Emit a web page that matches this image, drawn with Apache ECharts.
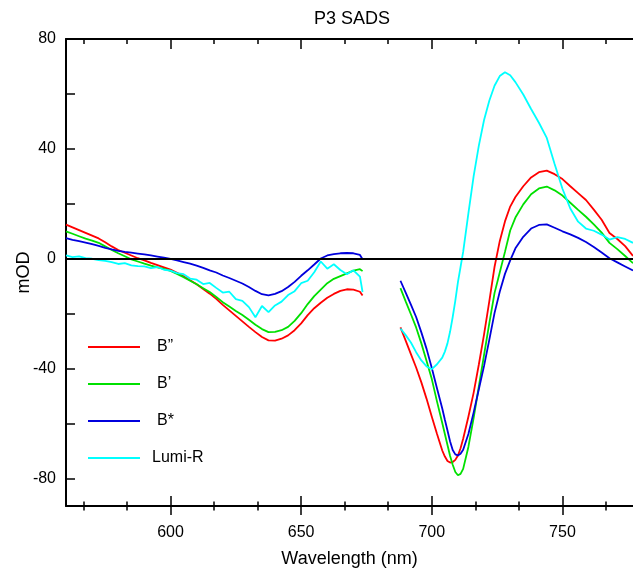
<!DOCTYPE html>
<html>
<head>
<meta charset="utf-8">
<script src="https://cdn.jsdelivr.net/npm/echarts@6/dist/echarts.min.js"></script>
<style>
  html, body { margin: 0; padding: 0; background: #fff; }
  #chart { width: 633px; height: 577px; }
</style>
</head>
<body>
<div id="chart"></div>
<script>
// wavelength samples (nm); null gap between the two measured windows
const wavelength = [
  560, 562.5, 565, 567.5, 570, 572.5, 575, 577.5, 580, 582.5, 585, 587.5, 590, 592.5, 595, 597.5,
  600, 602.5, 605, 607.5, 610, 612.5, 615, 617.5, 620, 622.5, 625, 627.5, 630, 632.5, 635, 637.5,
  640, 642.5, 645, 647.5, 650, 652.5, 655, 657.5, 660, 662.5, 665, 667.5, 670, 672.5, 673.5,
  680,
  688, 690, 692, 694, 696, 698, 700, 702, 704, 705, 706, 707, 708, 709, 710, 711, 712, 714, 716, 718, 720, 722, 724, 726,
  728, 730, 732, 735, 738, 741, 744, 747, 750, 753, 756, 759, 762, 765, 768, 771, 774, 777
]

const bDoublePrime = [
  12.4, 11.4, 10.4, 9.4, 8.4, 7.4, 6.0, 4.5, 3.2, 2.2, 1.2, 0.2, -0.6, -1.5, -2.3, -3.1,
  -3.9, -5.1, -6.4, -7.8, -9.3, -11.0, -12.7, -14.6, -16.8, -18.8, -20.8, -22.8, -24.8, -26.7, -28.5, -29.7,
  -29.8, -29.1, -27.9, -26.0, -23.5, -20.5, -18.0, -16.0, -14.2, -12.8, -11.7, -11.1, -11.2, -12.0, -13.4,
  null,
  -25.0, -29.8, -34.7, -39.6, -45.0, -51.0, -57.5, -63.8, -69.8, -72.0, -73.6, -74.2, -74.0, -73.2, -71.6, -69.0, -65.5, -57.5, -48.8, -38.5, -27.5, -15.5, -3.0, 6.4,
  13.6, 19.0, 22.5, 26.4, 29.6, 31.5, 32.1, 30.8, 29.0, 26.4, 23.9, 21.4, 17.9, 14.2, 9.4, 7.2, 4.6, 1.0
]

const bPrime = [
  10.0, 9.1, 8.2, 7.3, 6.6, 5.8, 4.5, 3.2, 2.0, 0.9, -0.2, -1.0, -1.8, -2.5, -3.1, -3.7,
  -4.4, -5.5, -6.7, -8.0, -9.3, -10.7, -12.1, -13.9, -15.8, -17.4, -19.0, -20.5, -22.2, -24.0, -25.6, -26.7,
  -26.6, -26.0, -24.8, -22.6, -19.8, -16.5, -13.6, -11.2, -8.9, -7.3, -6.3, -5.3, -4.3, -3.8, -4.5,
  null,
  -10.7, -15.5, -20.2, -25.0, -30.8, -37.2, -43.8, -52.0, -59.8, -63.8, -67.8, -71.8, -75.0, -77.6, -78.8, -78.3, -76.5, -68.5, -58.0, -46.5, -35.0, -23.5, -12.5, -5.0,
  2.5, 10.3, 15.0, 19.8, 23.5, 25.6, 26.3, 24.9, 23.0, 20.4, 17.8, 15.3, 12.5, 9.5, 5.8, 3.5, 1.0, -1.6
]

const bStar = [
  7.5, 6.9, 6.4, 5.9, 5.3, 4.7, 4.0, 3.4, 2.9, 2.5, 2.2, 1.9, 1.6, 1.2, 0.8, 0.4,
  0.0, -0.6, -1.2, -1.8, -2.5, -3.3, -4.2, -5.0, -6.1, -7.0, -8.0, -9.0, -10.3, -11.7, -12.9, -13.3,
  -12.8, -11.8, -10.3, -8.4, -6.2, -4.2, -2.1, 0.1, 1.2, 1.7, 2.0, 2.1, 2.0, 1.4, -0.2,
  null,
  -8.0, -12.3, -16.7, -21.2, -26.8, -32.8, -39.8, -47.2, -54.5, -58.6, -62.5, -66.5, -69.6, -71.2, -71.6, -71.0, -69.5, -63.8, -56.0, -47.5, -39.0, -29.5, -19.8, -12.0,
  -5.5, -0.6, 3.8, 8.0, 11.0, 12.3, 12.5, 11.3, 10.0, 8.9, 7.6, 6.1, 4.3, 2.3, 0.2, -1.3, -2.8, -4.3
]

const lumiR = [
  1.2, 0.6, 0.9, 0.2, 0.0, -0.5, -0.8, -1.2, -1.9, -1.6, -2.4, -2.7, -2.8, -3.4, -3.0, -4.0,
  -4.3, -5.2, -5.6, -7.2, -7.6, -9.2, -8.8, -10.6, -12.3, -12.0, -14.7, -15.3, -17.6, -21.3, -17.2, -19.4,
  -17.0, -15.6, -13.2, -11.8, -8.9, -8.0, -4.9, -1.0, -3.6, -2.0, -4.1, -5.6, -4.2, -6.5, -12.1,
  null,
  -25.4, -27.8, -30.5, -34.0, -37.0, -39.2, -40.2, -38.4, -36.0, -33.8, -30.8, -26.5, -21.2, -15.2, -8.5, -3.0, 2.5, 16.5, 30.0, 41.2, 50.5, 57.5, 63.0, 66.5,
  67.9, 66.8, 64.3, 59.8, 54.5, 49.5, 44.0, 34.5, 25.5, 18.3, 13.5, 11.0, 10.2, 8.8, 7.0, 7.9, 7.2, 5.8
]

const seriesNames = ['B\u201d', 'B\u2019', 'B*', 'Lumi-R']
const seriesColors = ['#ff0000', '#00e000', '#0000dd', '#00ffff']
const xMajorTicks = [600, 650, 700, 750]
const xMinorTicks = [566.67, 583.33, 616.67, 633.33, 666.67, 683.33, 716.67, 733.33, 766.67]
const yTicks = [-80, -60, -40, -20, 0, 20, 40, 60, 80]
const yLabels = [-80, -40, 0, 40, 80]

const FONT = 'Liberation Sans'

function pairs(values) {
  return wavelength.map((w, i) => [w, values[i]])
}

// one extra x axis per tick family (top/bottom, inside/outside, major/minor)
function tickAxis(position, values, inside, len, showLine) {
  return {
    type: 'value',
    position: position,
    min: 560,
    max: 777,
    axisLine: { show: showLine, onZero: false, lineStyle: { color: '#000', width: 2 } },
    axisTick: { show: true, inside: inside, length: len, customValues: values, lineStyle: { color: '#000', width: 1.5 } },
    axisLabel: { show: false },
    splitLine: { show: false }
  }
}

const chart = echarts.init(document.getElementById('chart'))
const data = [bDoublePrime, bPrime, bStar, lumiR]

const option = {
  backgroundColor: '#fff',
  animation: false,
  title: {
    text: 'P3 SADS',
    left: 347,
    textAlign: 'center',
    top: 5,
    textStyle: { fontFamily: FONT, fontSize: 18, fontWeight: 'normal', color: '#000' }
  },
  legend: {
    orient: 'vertical',
    left: 88,
    top: 339,
    padding: 0,
    itemWidth: 52,
    itemHeight: 2,
    itemGap: 21,
    icon: 'rect',
    data: seriesNames,
    formatter: function(name) {
      return name === 'Lumi-R' ? '{l|' + name + '}' : '{b|' + name + '}'
    },
    textStyle: {
      fontFamily: FONT,
      fontSize: 16,
      color: '#000',
      rich: {
        b: { fontFamily: FONT, fontSize: 16, padding: [0, 0, 0, 12] },
        l: { fontFamily: FONT, fontSize: 16, padding: [0, 0, 0, 7] }
      }
    }
  },
  grid: {
    left: 66,
    right: 0,
    top: 39,
    bottom: 71,
    containLabel: false,
    outerBoundsMode: 'none'
  },
  xAxis: [
    {
      type: 'value',
      position: 'bottom',
      min: 560,
      max: 777,
      name: 'Wavelength (nm)',
      nameLocation: 'middle',
      nameGap: 44,
      nameMoveOverlap: false,
      nameTextStyle: { fontFamily: FONT, fontSize: 18, color: '#000' },
      axisLine: { show: true, onZero: false, lineStyle: { color: '#000', width: 2 } },
      axisTick: { show: true, inside: false, length: 9, customValues: xMajorTicks, lineStyle: { color: '#000', width: 1.5 } },
      axisLabel: { customValues: xMajorTicks, margin: 19, fontFamily: FONT, fontSize: 16, color: '#000' },
      splitLine: { show: false }
    },
    tickAxis('bottom', xMajorTicks, true, 10, false),
    tickAxis('bottom', xMinorTicks, false, 4.5, false),
    tickAxis('bottom', xMinorTicks, true, 4.5, false),
    tickAxis('top', xMajorTicks, true, 10, true),
    tickAxis('top', xMinorTicks, true, 5, false)
  ],
  yAxis: {
    type: 'value',
    min: -90,
    max: 80,
    name: 'mOD',
    nameLocation: 'middle',
    nameGap: 33,
    nameMoveOverlap: false,
    nameTextStyle: { fontFamily: FONT, fontSize: 18, color: '#000' },
    axisLine: { show: true, onZero: false, lineStyle: { color: '#000', width: 2 } },
    axisTick: { show: true, inside: true, length: 9, customValues: yTicks, lineStyle: { color: '#000', width: 1.5 } },
    axisLabel: { customValues: yLabels, margin: 10, fontFamily: FONT, fontSize: 16, color: '#000' },
    splitLine: { show: false }
  },
  series: seriesNames.map((name, i) => ({
    name: name,
    type: 'line',
    xAxisIndex: 0,
    data: pairs(data[i]),
    showSymbol: false,
    connectNulls: false,
    color: seriesColors[i],
    lineStyle: { color: seriesColors[i], width: 1.8 },
    markLine: i === 0 ? {
      silent: true,
      symbol: 'none',
      label: { show: false },
      lineStyle: { color: '#000', width: 2, type: 'solid' },
      data: [{ yAxis: 0 }]
    } : undefined
  }))
}

chart.setOption(option)
</script>
</body>
</html>
